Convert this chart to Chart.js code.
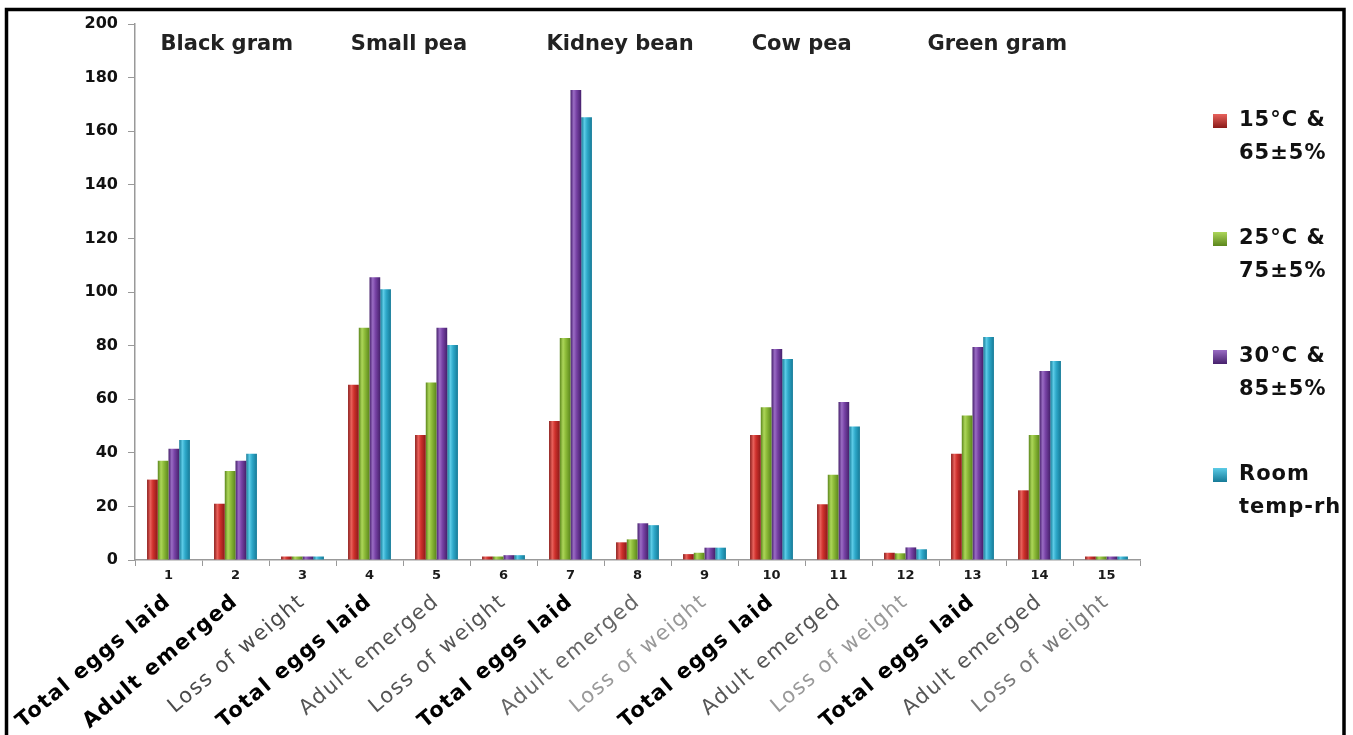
<!DOCTYPE html>
<html lang="en">
<head>
<meta charset="UTF-8" />
<title>Eggs laid, adult emergence and loss of weight</title>
<script src="https://cdn.jsdelivr.net/npm/chart.js"></script>
<style>
  html, body { margin: 0; padding: 0; background: #fff; }
  .wrap { width: 1353px; height: 735px; position: relative; }
</style>
</head>
<body>
<div class="wrap"><canvas id="chart" width="1353" height="735"></canvas></div>
<script>
// ---- data ----
const categories = ["1","2","3","4","5","6","7","8","9","10","11","12","13","14","15"];
const measureLabels = [
  "Total eggs laid", "Adult emerged", "Loss of weight",
  "Total eggs laid", "Adult emerged", "Loss of weight",
  "Total eggs laid", "Adult emerged", "Loss of weight",
  "Total eggs laid", "Adult emerged", "Loss of weight",
  "Total eggs laid", "Adult emerged", "Loss of weight"
];
const seedGroups = ["Black gram", "Small pea", "Kidney bean", "Cow pea", "Green gram"];
const seriesLabels = [["15°C &", "65±5%"], ["25°C &", "75±5%"], ["30°C &", "85±5%"], ["Room", "temp-rh"]];

const temp15 = [30, 21, 1.3, 65.4, 46.6, 1.3, 51.9, 6.6, 2.2, 46.6, 20.8, 2.7, 39.6, 26, 1.3];
const temp25 = [37, 33.2, 1.3, 86.7, 66.2, 1.3, 82.8, 7.7, 2.7, 57, 31.8, 2.5, 53.9, 46.6, 1.3];
const temp30 = [41.5, 37, 1.3, 105.5, 86.7, 1.8, 175.4, 13.7, 4.6, 78.7, 59, 4.7, 79.5, 70.5, 1.3];
const roomTemp = [44.8, 39.6, 1.3, 101, 80.2, 1.8, 165.2, 13, 4.6, 75, 49.8, 4, 83.2, 74.3, 1.3];

const yTicks = [0, 20, 40, 60, 80, 100, 120, 140, 160, 180, 200];

// ---- styling ----
const CAT_PCT = 0.64;
const palette = [
  { dark: "#8a1a18", mid: "#cf302c", light: "#e8625c" },
  { dark: "#5b861c", mid: "#8dbb39", light: "#add65a" },
  { dark: "#46206c", mid: "#7843a6", light: "#9a6cc4" },
  { dark: "#167a97", mid: "#2ea9ca", light: "#5ccbe6" }
];
// label look per category (bold black / regular grey), as in the picture
const labelLook = [
  ["bold", "#000"], ["bold", "#000"], ["normal", "#4a4a4a"],
  ["bold", "#000"], ["normal", "#555"], ["normal", "#555"],
  ["bold", "#000"], ["normal", "#666"], ["normal", "#999"],
  ["bold", "#000"], ["normal", "#555"], ["normal", "#999"],
  ["bold", "#000"], ["normal", "#555"], ["normal", "#7a7a7a"]
];
const groupTitleAt = [0.87, 3.59, 6.74, 9.45, 12.37];

function barFill(ctx) {
  const col = palette[ctx.datasetIndex];
  const chart = ctx.chart;
  if (!chart.chartArea || ctx.dataIndex === undefined) return col.mid;
  const x = chart.scales.x;
  const catW = x.width / categories.length;
  const groupW = catW * CAT_PCT;
  const barW = groupW / seriesLabels.length;
  const left = x.getPixelForValue(ctx.dataIndex) - groupW / 2 + ctx.datasetIndex * barW;
  const g = chart.ctx.createLinearGradient(left, 0, left + barW, 0);
  g.addColorStop(0, col.dark);
  g.addColorStop(0.3, col.light);
  g.addColorStop(0.55, col.mid);
  g.addColorStop(1, col.dark);
  return g;
}

const series = [temp15, temp25, temp30, roomTemp];

const extras = {
  id: "extras",
  afterDraw(chart) {
    const c = chart.ctx;
    const x = chart.scales.x;
    c.save();

    // rotated measure labels
    measureLabels.forEach((txt, i) => {
      const px = x.getPixelForValue(i);
      c.save();
      c.translate(px, 599);
      c.rotate(-40 * Math.PI / 180);
      c.font = labelLook[i][0] + " 21px 'DejaVu Sans'";
      c.letterSpacing = "1.5px";
      c.fillStyle = labelLook[i][1];
      c.textAlign = "right";
      c.textBaseline = "middle";
      c.fillText(txt, 0, 0);
      c.restore();
    });

    // seed group titles
    c.font = "bold 21px 'DejaVu Sans'";
    c.fillStyle = "#222";
    c.textAlign = "center";
    c.textBaseline = "alphabetic";
    seedGroups.forEach((t, i) => {
      c.fillText(t, x.getPixelForValue(groupTitleAt[i]), 50);
    });

    // legend
    c.save();
    c.beginPath();
    c.rect(0, 0, 1342, 735);
    c.clip();
    c.font = "bold 21px 'DejaVu Sans'";
    c.letterSpacing = "1px";
    c.textAlign = "left";
    c.textBaseline = "middle";
    seriesLabels.forEach((lines, i) => {
      const y = 121 + i * 118;
      const col = palette[i];
      const g = c.createLinearGradient(0, y - 7, 0, y + 7);
      g.addColorStop(0, col.light);
      g.addColorStop(1, col.dark);
      c.fillStyle = g;
      c.fillRect(1213, y - 7, 14, 14);
      c.fillStyle = "#111";
      lines.forEach((ln, k) => c.fillText(ln, 1239, y + k * 33));
    });
    c.restore();

    // frame
    c.strokeStyle = "#000";
    c.lineWidth = 3.5;
    c.beginPath();
    c.moveTo(6.5, 740);
    c.lineTo(6.5, 9.5);
    c.lineTo(1344, 9.5);
    c.lineTo(1344, 740);
    c.stroke();
    c.restore();
  }
};

new Chart(document.getElementById("chart"), {
  type: "bar",
  data: {
    labels: categories,
    datasets: series.map((data, i) => ({
      label: seriesLabels[i].join(" "),
      data: data,
      backgroundColor: barFill,
      borderWidth: 0,
      categoryPercentage: CAT_PCT,
      barPercentage: 1
    }))
  },
  options: {
    responsive: false,
    animation: false,
    layout: { padding: { left: 0, right: 213, top: 24, bottom: 0 } },
    plugins: { legend: { display: false }, tooltip: { enabled: false } },
    scales: {
      x: {
        grid: { offset: true, drawOnChartArea: false, drawTicks: true, tickLength: 6, color: "#999" },
        border: { color: "#999", width: 1.5 },
        ticks: {
          font: { family: "DejaVu Sans", weight: "bold", size: 13 },
          color: "#1a1a1a",
          padding: 2,
          maxRotation: 0,
          autoSkip: false
        },
        afterFit(scale) { scale.height = 175; }
      },
      y: {
        min: 0,
        max: 200,
        afterBuildTicks(scale) { scale.ticks = yTicks.map(v => ({ value: v })); },
        grid: { drawOnChartArea: false, drawTicks: true, tickLength: 7, color: "#999" },
        border: { color: "#999", width: 1.5 },
        ticks: {
          font: { family: "DejaVu Sans", weight: "bold", size: 16 },
          color: "#111",
          padding: 10
        },
        afterFit(scale) { scale.width = 135; }
      }
    }
  },
  plugins: [extras]
});
</script>
</body>
</html>
